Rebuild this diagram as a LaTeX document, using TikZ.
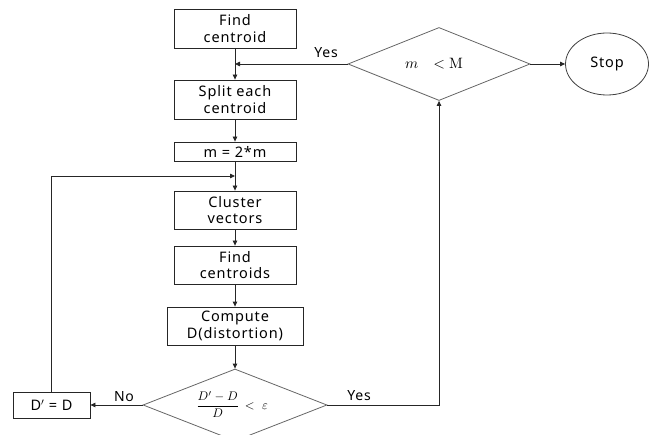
\documentclass[tikz,border=0pt]{standalone}
\usepackage[no-math]{fontspec}
\setmainfont{Noto Sans}[LetterSpace=6]
\usetikzlibrary{arrows.meta,shapes.geometric}
\begin{document}
\begin{tikzpicture}[x=1pt,y=-1pt,
  every node/.style={font=\fontsize{14.5}{16.3}\selectfont, align=center, inner sep=0pt},
  procbox/.style={draw=black!85, line width=0.8pt, minimum width=122pt},
  decision/.style={diamond, draw=black!60, line width=0.8pt},
  terminal/.style={ellipse, draw=black!75, line width=0.8pt, minimum width=83pt, minimum height=62pt},
  flow/.style={draw=black!85, line width=0.8pt, -{Triangle[length=5pt,width=4.5pt]}},
  lbl/.style={font=\fontsize{14}{16}\selectfont},
  mathlbl/.style={font=\fontsize{10}{12}\selectfont}]
\useasboundingbox (0,0) rectangle (655,435);

% process boxes of the main column
\node[procbox, minimum height=39pt] (fc)  at (235,28.5) {Find\\centroid};
\node[procbox, minimum height=39pt] (sc)  at (235,99.5) {Split each\\centroid};
\node[procbox, minimum height=19pt] (mm)  at (235,151.5) {m = 2*m};
\node[procbox, minimum height=38pt] (cv)  at (235,210) {Cluster\\vectors};
\node[procbox, minimum height=38pt] (fcs) at (235,265) {Find\\centroids};
\node[procbox, minimum height=38pt, minimum width=136pt] (cd) at (235,326) {Compute\\D(distortion)};

% decisions
\node[decision, minimum width=184pt, minimum height=72pt] (dd) at (235,405) {};
\node[mathlbl] (ddt) at (232,404.5) {\scalebox{1.25}{$\displaystyle\frac{D'-D}{D}\,<\ \varepsilon$}};
\node[decision, minimum width=182pt, minimum height=73pt] (md) at (439,64) {};
\node[mathlbl] (mdt) at (434,64) {\scalebox{1.5}{$m\quad{<}\;\mathrm{M}$}};

% terminal and update box
\node[terminal] (stop) at (607,64) {Stop};
\node[procbox, minimum width=77pt, minimum height=26pt] (dp) at (51.5,405) {D$'$ = D};

% junction points on the main column
\coordinate (jy) at (235,64);
\coordinate (jl) at (235,176);
\coordinate (cl) at (dp.north |- jl);
\coordinate (cr) at (md.south |- dd.east);

% connectors
\draw[flow] (fc) -- (sc);
\draw[flow] (md.west) -- (jy);
\draw[flow] (sc) -- (mm);
\draw[flow] (mm) -- (cv);
\draw[flow] (dp.north) -- (cl) -- (jl);
\draw[flow] (cv) -- (fcs);
\draw[flow] (fcs) -- (cd);
\draw[flow] (cd) -- (dd.north);
\draw[flow] (dd.west) -- (dp.east);
\draw[flow] (dd.east) -- (cr) -- (md.south);
\draw[flow] (md.east) -- (stop.west);

% branch labels
\node[lbl] (yes1) at (326,53) {Yes};
\node[lbl] (no)   at (124,397) {No};
\node[lbl] (yes2) at (359,396) {Yes};
\end{tikzpicture}
\end{document}
